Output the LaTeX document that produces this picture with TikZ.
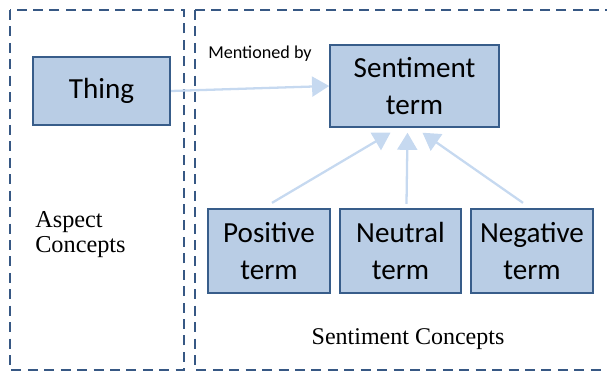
\documentclass[tikz,border=0pt]{standalone}
\usepackage{fontspec}
\setmainfont{Liberation Serif}
\newfontfamily\boxfont{Carlito}
\usetikzlibrary{arrows.meta}
\usetikzlibrary{calc}
\definecolor{termfill}{RGB}{185,205,229}
\definecolor{termline}{RGB}{56,93,138}
\definecolor{zoneline}{RGB}{55,88,132}
\definecolor{linkblue}{RGB}{198,217,240}
\tikzset{
	term/.style={draw=termline,fill=termfill,line width=1.4pt,align=center,
		font=\boxfont\fontsize{20.4}{26.5}\selectfont,inner sep=0pt},
	zone/.style={draw=zoneline,line width=1.8pt,dash pattern=on 7pt off 4.5pt},
	link/.style={draw=linkblue,line width=1.6pt,-{Triangle[width=14pt,length=12pt]}},
}

\begin{document}
\begin{tikzpicture}[x=0.7pt,y=-0.7pt]
			\useasboundingbox (0,0) rectangle (607,373);
			
			% concept zones..............
			\draw [zone] (10,10) rectangle (184,370);
			\draw [zone] (195,10) rectangle (612,370);
			
			% terms......................
			\node [term, minimum width=96pt, minimum height=47pt] (thing) at (101.5,91) {Thing};
			\node [term, minimum width=118pt, minimum height=57pt] (sent) at (414.5,86) {Sentiment\\term};
			\node [term, minimum width=85pt, minimum height=59pt] (pos) at (269,251) {Positive\\term};
			\node [term, minimum width=85pt, minimum height=59pt] (neu) at (400.5,251) {Neutral\\term};
			\node [term, minimum width=85pt, minimum height=59pt] (neg) at (532,251) {Negative\\term};
			
			% links.......................
			\draw [link] (thing.east) -- (sent.west);
			\draw [link] ($(pos.north)+(3,-5)$) -- ($(sent.south)+(-24,5)$);
			\draw [link] ($(neu.north)+(6,-4)$) -- ($(sent.south)+(-7,5)$);
			\draw [link] ($(neg.north)+(-9,-5)$) -- ($(sent.south)+(8,5)$);
			
			% labels......................
			\node [font=\boxfont\fontsize{12.7}{15}\selectfont, anchor=base west, inner sep=0pt] (ment) at (208,59) {Mentioned by};
			\node [align=left, anchor=base west, font=\fontsize{17}{17.5}\selectfont, inner sep=0pt] (aspect) at (35,253) {Aspect\\Concepts};
			\node [font=\fontsize{16.8}{19}\selectfont, anchor=base, inner sep=0pt] (sentc) at (408,344) {Sentiment Concepts};
		\end{tikzpicture}
\end{document}
